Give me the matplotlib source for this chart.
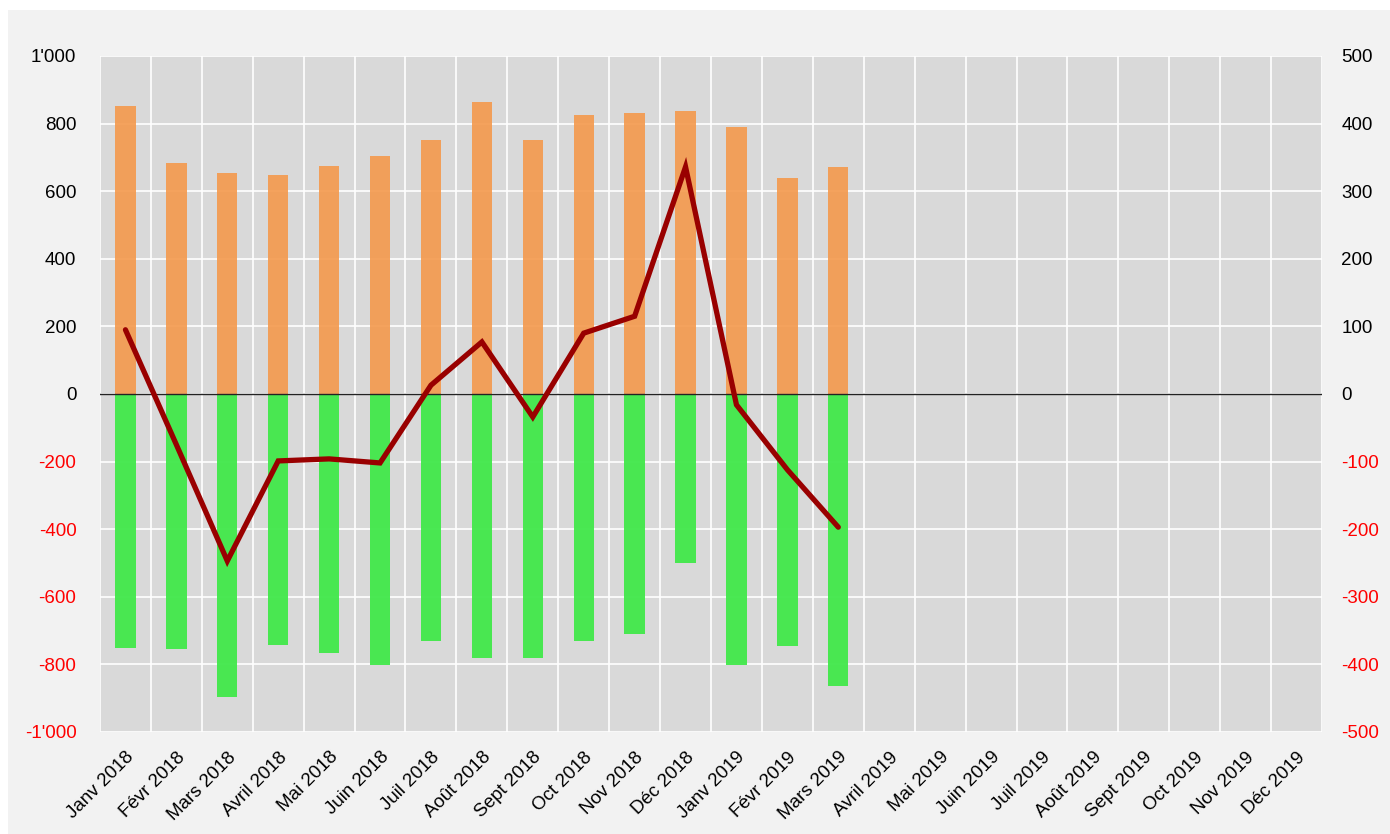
import matplotlib
matplotlib.use("Agg")
import matplotlib.pyplot as plt
from matplotlib.patches import Rectangle
import numpy as np

plt.rcParams["font.family"] = ["Liberation Sans", "DejaVu Sans"]
plt.rcParams["axes.unicode_minus"] = False

months = ["Janv", "Févr", "Mars", "Avril", "Mai", "Juin",
          "Juil", "Août", "Sept", "Oct", "Nov", "Déc"]
labels = [f"{m} {y}" for y in (2018, 2019) for m in months]

# valeurs (15 mois renseignés)
positive = [852, 683, 654, 648, 675, 704, 751, 864, 751, 825, 831, 837, 790, 639, 672]
negative = [-751, -754, -896, -743, -766, -802, -731, -781, -781, -731, -710, -500, -802, -746, -864]
balance = [95, -75, -247, -99, -96, -102, 13, 77, -34, 90, 115, 336, -16, -112, -197]

W, H = 1390, 834
fig = plt.figure(figsize=(W / 100, H / 100), dpi=100)
fig.patches.append(Rectangle((8 / W, 0), 1, 1 - 10 / H, transform=fig.transFigure,
                             facecolor="#f2f2f2", edgecolor="none", zorder=-10))

ax = fig.add_axes([100 / W, 102 / H, 1222 / W, 676 / H])
ax.set_facecolor("#d9d9d9")
x = np.arange(len(positive))

ax.bar(x, positive, width=0.4, color="#f4994c", alpha=0.9, zorder=2)
ax.bar(x, negative, width=0.4, color="#41e84a", alpha=0.95, zorder=2)
ax.axhline(0, color="#222222", lw=1, zorder=3)

fs = 13.5
ax.set_xlim(-0.5, len(labels) - 0.5)
ax.set_ylim(-1000, 1000)
ax.set_yticks(np.arange(-1000, 1001, 200))
ax.set_yticklabels([f"{v:,}".replace(",", "'") for v in range(-1000, 1001, 200)])
ax.set_xticks(np.arange(len(labels)))
ax.set_xticklabels(labels, rotation=45, ha="right", va="top", rotation_mode="anchor")
ax.set_xticks(np.arange(-0.5, len(labels), 1), minor=True)
ax.grid(True, which="minor", axis="x", color="white", lw=1.2, zorder=1)
ax.grid(True, which="major", axis="y", color="white", lw=1.2, zorder=1)
ax.set_axisbelow(True)
ax.tick_params(axis="x", which="both", length=0, labelsize=fs, pad=12)
ax.tick_params(axis="y", length=0, labelsize=fs, pad=17)
for t, v in zip(ax.get_yticklabels(), range(-1000, 1001, 200)):
    if v < 0:
        t.set_color("red")
for s in ax.spines.values():
    s.set_visible(False)

ax2 = ax.twinx()
ax2.plot(x, balance, color="#990000", lw=3.8, solid_capstyle="round",
         solid_joinstyle="miter", zorder=5)
ax2.set_ylim(-500, 500)
ax2.set_yticks(np.arange(-500, 501, 100))
ax2.tick_params(axis="y", length=0, labelsize=fs, pad=14)
for t, v in zip(ax2.get_yticklabels(), range(-500, 501, 100)):
    if v < 0:
        t.set_color("red")
for s in ax2.spines.values():
    s.set_visible(False)

fig.savefig("out.png", dpi=100)
